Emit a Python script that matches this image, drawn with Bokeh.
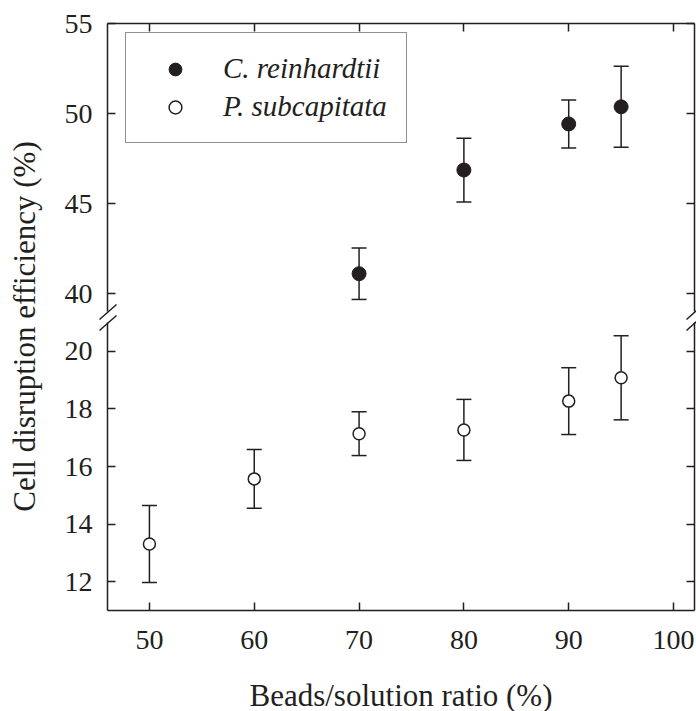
from math import pi
from bokeh.plotting import figure
from bokeh.models import (Range1d, LinearAxis, FixedTicker, Whisker, TeeHead,
                          ColumnDataSource, Legend, LegendItem, Label, Arrow,
                          CustomLabelingPolicy)
from bokeh.embed import file_html
from bokeh.resources import INLINE

# ---- data ----
ratio_c = [70, 80, 90, 95]
eff_c = [41.10, 46.86, 49.42, 50.37]
err_c = [1.43, 1.77, 1.33, 2.25]

ratio_p = [50, 60, 70, 80, 90, 95]
eff_p = [13.31, 15.57, 17.14, 17.27, 18.27, 19.08]
err_p = [1.34, 1.02, 0.76, 1.06, 1.16, 1.46]

x_lim = (46, 102)
upper_lim = (39, 55)
lower_lim = (11, 21)
x_ticks = [50, 60, 70, 80, 90, 100]
upper_ticks = [40, 45, 50, 55]
lower_ticks = [12, 14, 16, 18, 20]

label_c = "C. reinhardtii"
label_p = "P. subcapitata"
x_title = "Beads/solution ratio (%)"
y_title = "Cell disruption efficiency (%)"

INK = "#231f20"
FONT = "Liberation Serif"

# ---- geometry (canvas pixels) ----
W, H = 696, 711
X0, X1 = 107, 694            # x-axis limits on screen
Y_TOP, Y_UB = 23, 311        # upper panel top / bottom
Y_LT, Y_BOT = 322, 610       # lower panel top / bottom

ppu_x = (X1 - X0) / (x_lim[1] - x_lim[0])
ppu_l = (Y_BOT - Y_LT) / (lower_lim[1] - lower_lim[0])
ppu_u = (Y_UB - Y_TOP) / (upper_lim[1] - upper_lim[0])
x_range = Range1d(x_lim[0] - X0 / ppu_x, x_lim[1] + (W - X1) / ppu_x)
lower_range = Range1d(lower_lim[0] - (H - Y_BOT) / ppu_l, lower_lim[1] + Y_LT / ppu_l)
upper_range = Range1d(upper_lim[0] - (H - Y_UB) / ppu_u, upper_lim[1] + Y_TOP / ppu_u)

src_c = ColumnDataSource(dict(x=ratio_c, y=eff_c,
                              upper=[v + e for v, e in zip(eff_c, err_c)],
                              lower=[v - e for v, e in zip(eff_c, err_c)]))
src_p = ColumnDataSource(dict(x=ratio_p, y=eff_p,
                              upper=[v + e for v, e in zip(eff_p, err_p)],
                              lower=[v - e for v, e in zip(eff_p, err_p)]))

NO_LABELS = "for (const i of Array.from(indices)) { indices.unset(i) }\nreturn indices"


def style_axis(ax, labels=True, standoff=15):
    ax.axis_line_color = INK
    ax.axis_line_width = 1.5
    ax.major_tick_line_color = INK
    ax.major_tick_line_width = 1.5
    ax.major_tick_in = 8
    ax.major_tick_out = 0
    ax.minor_tick_line_color = None
    ax.minor_tick_in = 0
    ax.minor_tick_out = 0
    ax.major_label_text_font = FONT
    ax.major_label_text_font_size = "28px"
    ax.major_label_text_color = INK
    ax.major_label_standoff = standoff
    if not labels:
        ax.major_label_policy = CustomLabelingPolicy(code=NO_LABELS)
        ax.major_label_text_font_size = "0px"
        ax.major_label_standoff = 0


p = figure(width=W, height=H, x_range=x_range, y_range=lower_range,
           output_backend="svg", toolbar_location=None,
           x_axis_location="below", y_axis_location="left",
           min_border_left=0, min_border_right=0, min_border_top=0, min_border_bottom=0)
p.extra_y_ranges = {"upper": upper_range}
p.outline_line_color = None
p.grid.visible = False

# bottom x axis (with labels and title)
xa = p.xaxis[0]
xa.ticker = FixedTicker(ticks=x_ticks)
xa.bounds = x_lim
xa.fixed_location = lower_lim[0]
style_axis(xa, standoff=20)
xa.axis_label = x_title
xa.axis_label_text_font = FONT
xa.axis_label_text_font_size = "31px"
xa.axis_label_text_font_style = "normal"
xa.axis_label_text_color = INK
xa.axis_label_standoff = 26

# top x axis (ticks only)
xt = LinearAxis(ticker=FixedTicker(ticks=x_ticks), bounds=x_lim,
                y_range_name="upper", fixed_location=upper_lim[1])
style_axis(xt, labels=False)
p.add_layout(xt, "above")

# left axes: lower panel and upper panel
ya = p.yaxis[0]
ya.ticker = FixedTicker(ticks=lower_ticks)
ya.bounds = lower_lim
ya.fixed_location = x_lim[0]
style_axis(ya)

yb = LinearAxis(y_range_name="upper", ticker=FixedTicker(ticks=upper_ticks),
                bounds=upper_lim, fixed_location=x_lim[0])
style_axis(yb)
p.add_layout(yb, "left")

# right axes (ticks only)
yc = LinearAxis(ticker=FixedTicker(ticks=lower_ticks), bounds=lower_lim,
                fixed_location=x_lim[1])
style_axis(yc, labels=False)
p.add_layout(yc, "right")
yd = LinearAxis(y_range_name="upper", ticker=FixedTicker(ticks=upper_ticks),
                bounds=upper_lim, fixed_location=x_lim[1])
style_axis(yd, labels=False)
p.add_layout(yd, "right")

# error bars
for src, rng in ((src_c, "upper"), (src_p, "default")):
    p.add_layout(Whisker(source=src, base="x", upper="upper", lower="lower",
                         dimension="height", y_range_name=rng,
                         line_color=INK, line_width=1.5,
                         upper_head=TeeHead(size=15, line_color=INK, line_width=1.5),
                         lower_head=TeeHead(size=15, line_color=INK, line_width=1.5)))

rc = p.scatter("x", "y", source=src_c, y_range_name="upper", marker="circle", size=14,
               fill_color=INK, line_color=INK, line_width=1)
rp = p.scatter("x", "y", source=src_p, marker="circle", size=12,
               fill_color="white", line_color=INK, line_width=1.5)

legend = Legend(items=[LegendItem(label=label_c, renderers=[rc]),
                       LegendItem(label=label_p, renderers=[rp])],
                location=(125, H - 143), padding=19, spacing=5,
                margin=0, glyph_width=60, glyph_height=32, label_height=32,
                label_standoff=18,
                label_text_font=FONT, label_text_font_style="italic",
                label_text_font_size="29px", label_text_color=INK,
                border_line_color=INK, border_line_width=1.5,
                background_fill_color="white", background_fill_alpha=1)
p.add_layout(legend)

# axis-break marks (double slashes) on both vertical axes
for sx in (X0, X1):
    for sy in (H - Y_UB, H - Y_LT):
        p.add_layout(Arrow(start=None, end=None, x_start=sx - 8, y_start=sy - 8,
                           x_end=sx + 9, y_end=sy + 7, start_units="screen",
                           end_units="screen", line_color=INK, line_width=1.5))

# y title spanning both panels
p.add_layout(Label(x=24, y=H - 326, x_units="screen", y_units="screen", text=y_title,
                   angle=pi / 2, text_align="center", text_baseline="middle",
                   text_font=FONT, text_font_size="31px", text_color=INK))

open("out.html", "w").write(file_html(p, INLINE))
